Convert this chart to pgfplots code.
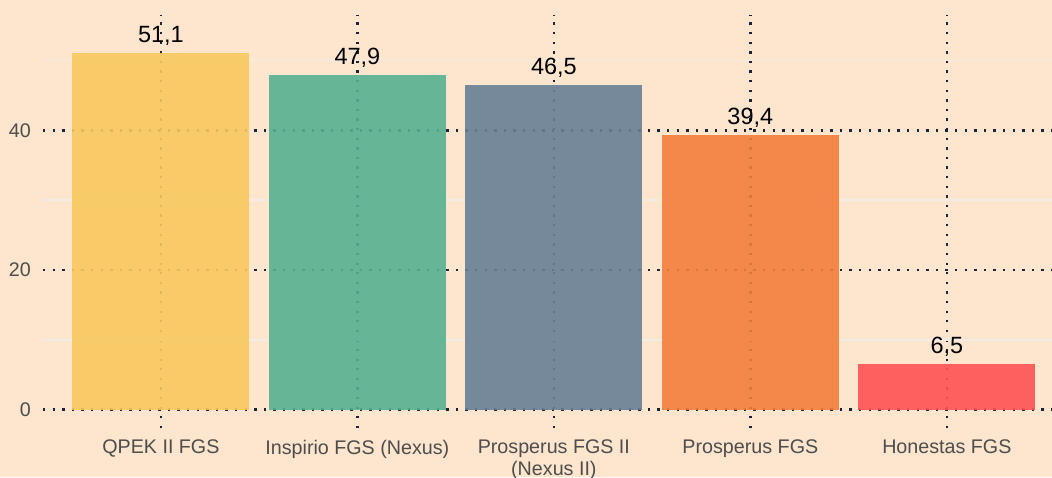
\documentclass[border=0pt]{standalone}
\usepackage{pgfplots}
\pgfplotsset{compat=1.18}
\usepackage{fontspec}
\setmainfont{Liberation Sans}
\definecolor{bgcol}{HTML}{FDE5CE}
\definecolor{c1}{HTML}{F9C85E}
\definecolor{c2}{HTML}{55B090}
\definecolor{c3}{HTML}{688096}
\definecolor{c4}{HTML}{F37F3B}
\definecolor{c5}{HTML}{FE5254}
\definecolor{gridc}{HTML}{1A2238}
\definecolor{minorc}{HTML}{F3ECE6}
\definecolor{tickc}{HTML}{4D4D4D}
\begin{document}
\begin{tikzpicture}[x=1pt,y=1pt]
\useasboundingbox (0,0) rectangle (1052,477);
\clip (0,0) rectangle (1052,477);
\fill[bgcol] (0,0) rectangle (1052,477);
\begin{axis}[
  at={(43pt,49pt)}, anchor=south west, scale only axis,
  width=1021.8pt, height=413pt,
  xmin=-0.6, xmax=4.6, ymin=-2.65, ymax=56.55,
  /pgf/number format/assume math mode=true,
  axis line style={draw=none},
  major tick length=0pt, minor tick length=0pt,
  xtick={0,1,2,3,4},
  xticklabels={QPEK II FGS, Inspirio FGS (Nexus), {Prosperus FGS II\\(Nexus II)}, Prosperus FGS, Honestas FGS},
  ytick={0,20,40},
  minor ytick={10,30,50},
  xmajorgrids, ymajorgrids, yminorgrids,
  major grid style={draw=gridc, line width=2.3pt, dash pattern=on 2.3pt off 7.3pt},
  minor grid style={draw=minorc, line width=1.6pt},
  xticklabel style={font=\fontsize{19.7}{22}\selectfont, text=tickc, align=center, anchor=north, inner sep=0pt, yshift=-12pt},
  yticklabel style={font=\fontsize{19.7}{22}\selectfont, text=tickc, anchor=east, inner sep=0pt, xshift=-12pt},
  nodes near coords,
  nodes near coords style={font=\fontsize{23.5}{27}\selectfont, text=black, anchor=base, inner sep=0pt, yshift=10.5pt,
    /pgf/number format/.cd, fixed, fixed zerofill, precision=1, use comma, assume math mode=true},
  clip=false,
]
\addplot[ybar, bar width=176.8pt, bar shift=0pt, draw=none, fill=c1, fill opacity=0.9, text opacity=1] coordinates {(0,51.1)};
\addplot[ybar, bar width=176.8pt, bar shift=0pt, draw=none, fill=c2, fill opacity=0.9, text opacity=1] coordinates {(1,47.9)};
\addplot[ybar, bar width=176.8pt, bar shift=0pt, draw=none, fill=c3, fill opacity=0.9, text opacity=1] coordinates {(2,46.5)};
\addplot[ybar, bar width=176.8pt, bar shift=0pt, draw=none, fill=c4, fill opacity=0.9, text opacity=1] coordinates {(3,39.4)};
\addplot[ybar, bar width=176.8pt, bar shift=0pt, draw=none, fill=c5, fill opacity=0.9, text opacity=1] coordinates {(4,6.5)};
\end{axis}
\end{tikzpicture}
\end{document}
